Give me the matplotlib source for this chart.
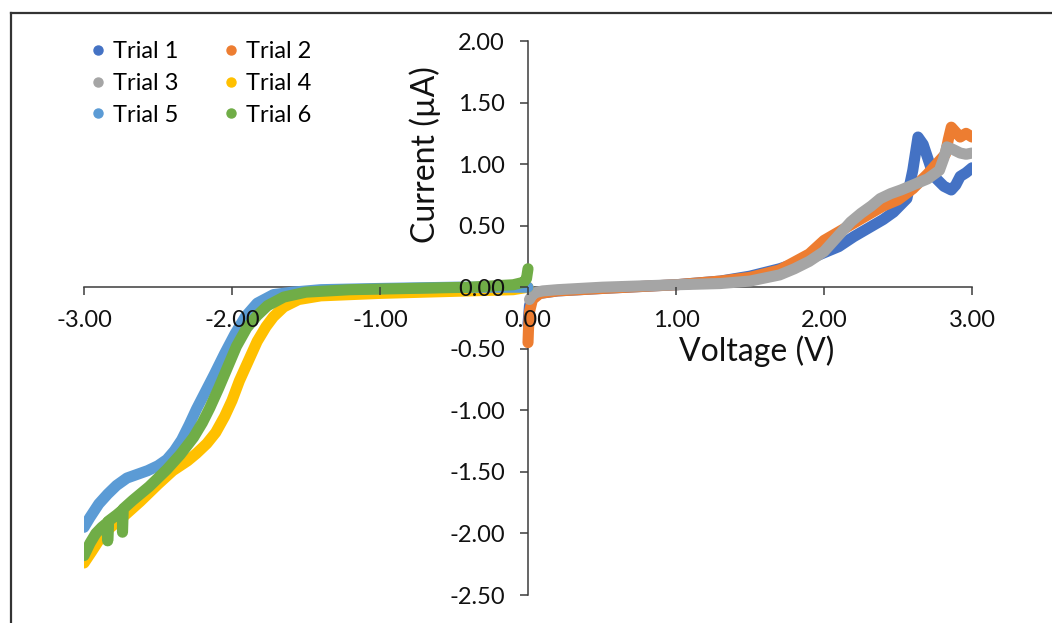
import matplotlib
matplotlib.use("Agg")
import matplotlib.pyplot as plt
from matplotlib.lines import Line2D

plt.rcParams['font.family'] = ['Lato', 'DejaVu Sans']

# ---- data: current (µA) vs voltage (V) for six trials ----
trial1_v = [0.0, 0.01, 0.03, 0.08, 0.2, 0.5, 1.0, 1.3, 1.5, 1.7, 1.9, 2.0, 2.1, 2.2, 2.3, 2.4,
            2.47, 2.56, 2.6, 2.635, 2.67, 2.72, 2.76, 2.81, 2.86, 2.89, 2.92, 2.96, 3.0]
trial1_i = [-0.30, -0.15, -0.08, -0.05, -0.03, -0.01, 0.02, 0.05, 0.09, 0.15, 0.23, 0.28, 0.33, 0.41, 0.48, 0.55,
            0.61, 0.72, 0.95, 1.22, 1.16, 0.98, 0.88, 0.82, 0.79, 0.83, 0.90, 0.93, 0.97]

trial2_v = [0.0, 0.003, 0.01, 0.03, 0.08, 0.2, 0.5, 1.0, 1.3, 1.5, 1.7, 1.9, 2.0, 2.1, 2.2, 2.3, 2.4,
            2.5, 2.6, 2.7, 2.76, 2.82, 2.84, 2.86, 2.89, 2.92, 2.96, 3.0]
trial2_i = [-0.45, -0.35, -0.20, -0.10, -0.05, -0.03, -0.01, 0.02, 0.05, 0.08, 0.14, 0.27, 0.38, 0.45, 0.52, 0.59, 0.66,
            0.71, 0.80, 0.92, 1.00, 1.08, 1.20, 1.30, 1.26, 1.22, 1.25, 1.22]

trial3_v = [0.01, 0.03, 0.06, 0.1, 0.2, 0.5, 1.0, 1.3, 1.5, 1.7, 1.8, 1.9, 2.0, 2.06, 2.12, 2.18, 2.25,
            2.32, 2.38, 2.45, 2.52, 2.6, 2.7, 2.78, 2.81, 2.83, 2.87, 2.92, 2.96, 3.0]
trial3_i = [-0.10, -0.06, -0.04, -0.03, -0.02, 0.0, 0.02, 0.03, 0.05, 0.10, 0.15, 0.21, 0.29, 0.37, 0.45, 0.53, 0.60,
            0.66, 0.72, 0.76, 0.79, 0.83, 0.88, 0.95, 1.05, 1.14, 1.12, 1.09, 1.08, 1.09]

trial4_v = [-3.0, -2.95, -2.87, -2.75, -2.62, -2.5, -2.4, -2.3, -2.24, -2.17, -2.11, -2.05, -2.0, -1.95, -1.89,
            -1.83, -1.77, -1.72, -1.65, -1.55, -1.4, -1.2, -1.0, -0.7, -0.4, -0.1, 0.0]
trial4_i = [-2.24, -2.15, -2.00, -1.88, -1.74, -1.60, -1.49, -1.41, -1.35, -1.27, -1.18, -1.05, -0.92, -0.76, -0.60,
            -0.44, -0.32, -0.24, -0.16, -0.10, -0.07, -0.06, -0.05, -0.04, -0.03, -0.02, 0.0]

trial5_v = [-3.0, -2.96, -2.9, -2.84, -2.78, -2.71, -2.64, -2.57, -2.5, -2.44, -2.39, -2.34, -2.29, -2.24,
            -2.18, -2.12, -2.05, -1.98, -1.91, -1.83, -1.72, -1.59, -1.4, -1.0, -0.5, 0.0]
trial5_i = [-1.95, -1.87, -1.76, -1.68, -1.61, -1.55, -1.52, -1.49, -1.45, -1.40, -1.33, -1.24, -1.12, -0.99,
            -0.85, -0.71, -0.54, -0.38, -0.24, -0.13, -0.06, -0.04, -0.02, -0.01, 0.0, 0.0]

trial6_v = [-3.0, -2.96, -2.92, -2.88, -2.84, -2.84, -2.835, -2.78, -2.74, -2.74, -2.735, -2.67, -2.56,
            -2.44, -2.35, -2.26, -2.20, -2.15, -2.09, -2.03, -1.97, -1.90, -1.83, -1.76, -1.65, -1.5,
            -1.2, -0.8, -0.4, -0.1, -0.03, -0.01, 0.0]
trial6_i = [-2.18, -2.08, -2.00, -1.95, -1.91, -2.06, -1.90, -1.85, -1.81, -1.99, -1.80, -1.73, -1.62,
            -1.48, -1.36, -1.22, -1.10, -0.98, -0.82, -0.65, -0.48, -0.33, -0.23, -0.15, -0.08, -0.04,
            -0.02, -0.01, 0.0, 0.02, 0.04, 0.07, 0.15]

series_names = ['Trial 1', 'Trial 2', 'Trial 3', 'Trial 4', 'Trial 5', 'Trial 6']
series_colors = ['#4472C4', '#ED7D31', '#A5A5A5', '#FFC000', '#5B9BD5', '#70AD47']

x_ticks = [-3.0, -2.0, -1.0, 0.0, 1.0, 2.0, 3.0]
x_tick_labels = ['-3.00', '-2.00', '-1.00', '0.00', '1.00', '2.00', '3.00']
y_ticks = [2.0, 1.5, 1.0, 0.5, 0.0, -0.5, -1.0, -1.5, -2.0, -2.5]
y_tick_labels = ['2.00', '1.50', '1.00', '0.50', '0.00', '-0.50', '-1.00', '-1.50', '-2.00', '-2.50']

# ---- figure ----
W, H = 1052, 623
fig = plt.figure(figsize=(W / 100, H / 100), dpi=100)
ax = fig.add_axes([84 / W, 1 - 595 / H, (972 - 84) / W, (595 - 41) / H])

series = [(trial1_v, trial1_i), (trial2_v, trial2_i), (trial3_v, trial3_i),
          (trial4_v, trial4_i), (trial5_v, trial5_i), (trial6_v, trial6_i)]
for (v, i), name, col in zip(series, series_names, series_colors):
    ax.plot(v, i, color=col, lw=8, solid_capstyle='round', solid_joinstyle='round',
            label=name, zorder=2)

ax.set_xlim(-3.0, 3.0)
ax.set_ylim(-2.5, 2.0)

# tick labels sit above the curves, axis lines below them
ax.set_axisbelow(False)
for side in ('top', 'right'):
    ax.spines[side].set_visible(False)
ax.spines['left'].set_position(('data', 0.0))
ax.spines['bottom'].set_position(('data', 0.0))
for side in ('left', 'bottom'):
    ax.spines[side].set_color('#3c3c3c')
    ax.spines[side].set_linewidth(1.1)
    ax.spines[side].set_zorder(1)

ax.set_xticks(x_ticks)
ax.set_xticklabels(x_tick_labels)
ax.set_yticks(y_ticks)
ax.set_yticklabels(y_tick_labels)
ax.tick_params(axis='both', direction='out', length=5.5, width=1.1, color='#3c3c3c',
               labelsize=17, labelcolor='#111111')
ax.tick_params(axis='x', pad=11)
ax.tick_params(axis='y', pad=11)

# axis titles
fig.text(757 / W, 1 - 351 / H, 'Voltage (V)', ha='center', va='center', fontsize=23, color='#111111')
fig.text(425 / W, 1 - 155 / H, 'Current (µA)', ha='center', va='center', rotation=90,
         fontsize=23, color='#111111')

# legend laid out row by row in two columns
handles = [Line2D([], [], ls='none', marker='o', ms=6.5, color=c) for c in series_colors]
order = [0, 2, 4, 1, 3, 5]
fig.legend([handles[k] for k in order], [series_names[k] for k in order],
           ncol=2, frameon=False, fontsize=17, loc='upper left',
           bbox_to_anchor=(91 / W, 1 - 41 / H), handlelength=0.6, handletextpad=0.34,
           columnspacing=1.9, labelspacing=0.46, borderaxespad=0, borderpad=0)

# outer frame (left and top edges)
fig.add_artist(Line2D([11 / W, 11 / W], [0, 1 - 13 / H], transform=fig.transFigure,
                      color='#333333', lw=1.6))
fig.add_artist(Line2D([11 / W, 1], [1 - 13 / H, 1 - 13 / H], transform=fig.transFigure,
                      color='#333333', lw=1.6))

fig.savefig('out.png', dpi=100)
